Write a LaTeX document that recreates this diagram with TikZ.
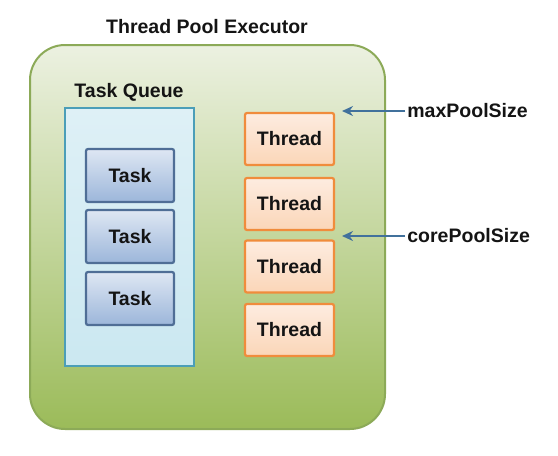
\documentclass[tikz,border=0pt]{standalone}
\usepackage{fontspec}
\setmainfont{Liberation Sans}
\usetikzlibrary{arrows.meta}

\definecolor{poolTop}{RGB}{236,241,225}
\definecolor{poolMid}{RGB}{197,219,152}
\definecolor{poolBot}{RGB}{155,187,89}
\definecolor{poolLine}{RGB}{140,170,88}
\definecolor{queueTop}{RGB}{222,240,246}
\definecolor{queueBot}{RGB}{203,232,241}
\definecolor{queueLine}{RGB}{75,158,184}
\definecolor{taskTop}{RGB}{222,231,243}
\definecolor{taskBot}{RGB}{156,182,218}
\definecolor{taskLine}{RGB}{79,110,150}
\definecolor{threadTop}{RGB}{253,236,224}
\definecolor{threadBot}{RGB}{251,214,184}
\definecolor{threadLine}{RGB}{240,140,60}
\definecolor{arrowBlue}{RGB}{65,113,156}
\definecolor{txt}{RGB}{20,20,20}

\begin{document}
\begin{tikzpicture}[x=1pt, y=-1pt, thick,
    font=\fontsize{19.5}{23}\selectfont\bfseries, text=txt,
    taskbox/.style={draw=taskLine, line width=2.2pt, rounded corners=2pt, top color=taskTop, bottom color=taskBot, minimum width=88pt, minimum height=53pt},
    threadbox/.style={draw=threadLine, line width=2.2pt, rounded corners=2pt, top color=threadTop, bottom color=threadBot, minimum width=89pt, minimum height=52pt},
    pointer/.style={draw=arrowBlue, line width=2pt, -{Stealth[length=11pt, width=10pt]}}]

    \useasboundingbox (0,0) rectangle (558,456);

    \node[draw=poolLine, line width=2pt, rounded corners=35pt, top color=poolTop, middle color=poolMid, bottom color=poolBot, minimum width=355pt, minimum height=384pt] at (207.5,237) (P) {};
    \node at (207,27) (PT) {Thread Pool Executor};

    \node[draw=queueLine, line width=2pt, top color=queueTop, bottom color=queueBot, minimum width=129pt, minimum height=258pt] at (129.5,237) (Q) {};
    \node at (129,92) (QT) {Task Queue};

    \node[taskbox] at (130,175.5) (T1) {Task};
    \node[taskbox] at (130,236.5) (T2) {Task};
    \node[taskbox] at (130,298.5) (T3) {Task};

    \node[threadbox] at (289.5,139) (W1) {Thread};
    \node[threadbox] at (289.5,204) (W2) {Thread};
    \node[threadbox] at (289.5,266.5) (W3) {Thread};
    \node[threadbox] at (289.5,330) (W4) {Thread};

% pool size markers
    \node[anchor=west, inner sep=2pt] at (405,111) (MX) {maxPoolSize};
    \node[anchor=west, inner sep=2pt] at (405,236) (CR) {corePoolSize};
    \coordinate (MXp) at (342,111);
    \coordinate (CRp) at (342,236);
    \draw[pointer] (MX.west) -- (MXp);
    \draw[pointer] (CR.west) -- (CRp);

\end{tikzpicture}
\end{document}
